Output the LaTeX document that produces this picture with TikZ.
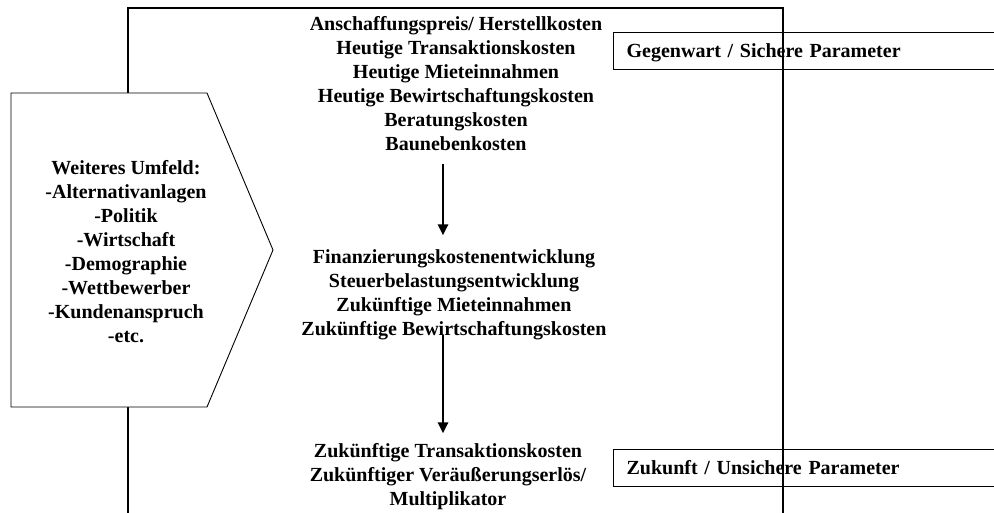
\documentclass[tikz,border=0pt]{standalone}
\usepackage{fontspec}
\setmainfont{Liberation Serif}
\usetikzlibrary{arrows.meta}
\begin{document}
\begin{tikzpicture}
[
 x=1pt, y=-1pt,
 every node/.style ={font=\bfseries\fontsize{20}{24}\selectfont},
 T1/.style={align=center, inner sep=0mm, anchor=north},
 B1/.style={rectangle, draw=black, line width=1.3pt, anchor=north west,
            minimum width=420pt, minimum height=37pt, text width=394pt,
            text height=13.5pt, text depth=0pt,
            inner xsep=13pt, align=left},
 R1/.style={draw=black, line width=1.6pt},
 P1/.style={draw=black, line width=0.9pt, fill=white},
 A1/.style={line width=2.7pt, -{Triangle[width=10pt,length=11pt]}}
 ],
 %
\useasboundingbox (0,0) rectangle (994,513);
%
\draw [R1] (128,513) -- (128,8) -- (783,8) -- (783,513);
\draw [P1] (11,93) -- (207,93) -- (273,250) -- (207,407) -- (11,407) -- cycle;
%
\node [T1]  (umfeld)  at ( 126, 160.4)  {Weiteres Umfeld:\\-Alternativanlagen\\-Politik\\-Wirtschaft\\-Demographie\\-Wettbewerber\\-Kundenanspruch\\-etc.};
%
\node [T1]  (heute)   at ( 456, 16.4)   {Anschaffungspreis/ Herstellkosten\\Heutige Transaktionskosten\\Heutige Mieteinnahmen\\Heutige Bewirtschaftungskosten\\Beratungskosten\\Baunebenkosten};
\node [T1]  (kuenftig) at ( 454, 249.4) {Finanzierungskostenentwicklung\\Steuerbelastungsentwicklung\\Zukünftige Mieteinnahmen\\Zukünftige Bewirtschaftungskosten};
\node [T1]  (ende)    at ( 448, 443.4)  {Zukünftige Transaktionskosten\\Zukünftiger Veräußerungserlös/\\Multiplikator};
%
\node [B1]  (gegenwart) at ( 613, 32)   {Gegenwart / Sichere Parameter};
\node [B1]  (zukunft)   at ( 613, 449)  {Zukunft / Unsichere Parameter};
%
\draw [A1]  ([xshift=-13pt,yshift=-13pt]heute.south) -- ([xshift=-11pt,yshift=14pt]kuenftig.north);
\draw [A1]  ([xshift=-11pt,yshift=5pt]kuenftig.south) -- ([xshift=-5pt,yshift=10pt]ende.north);
%
\end{tikzpicture}
\end{document}
